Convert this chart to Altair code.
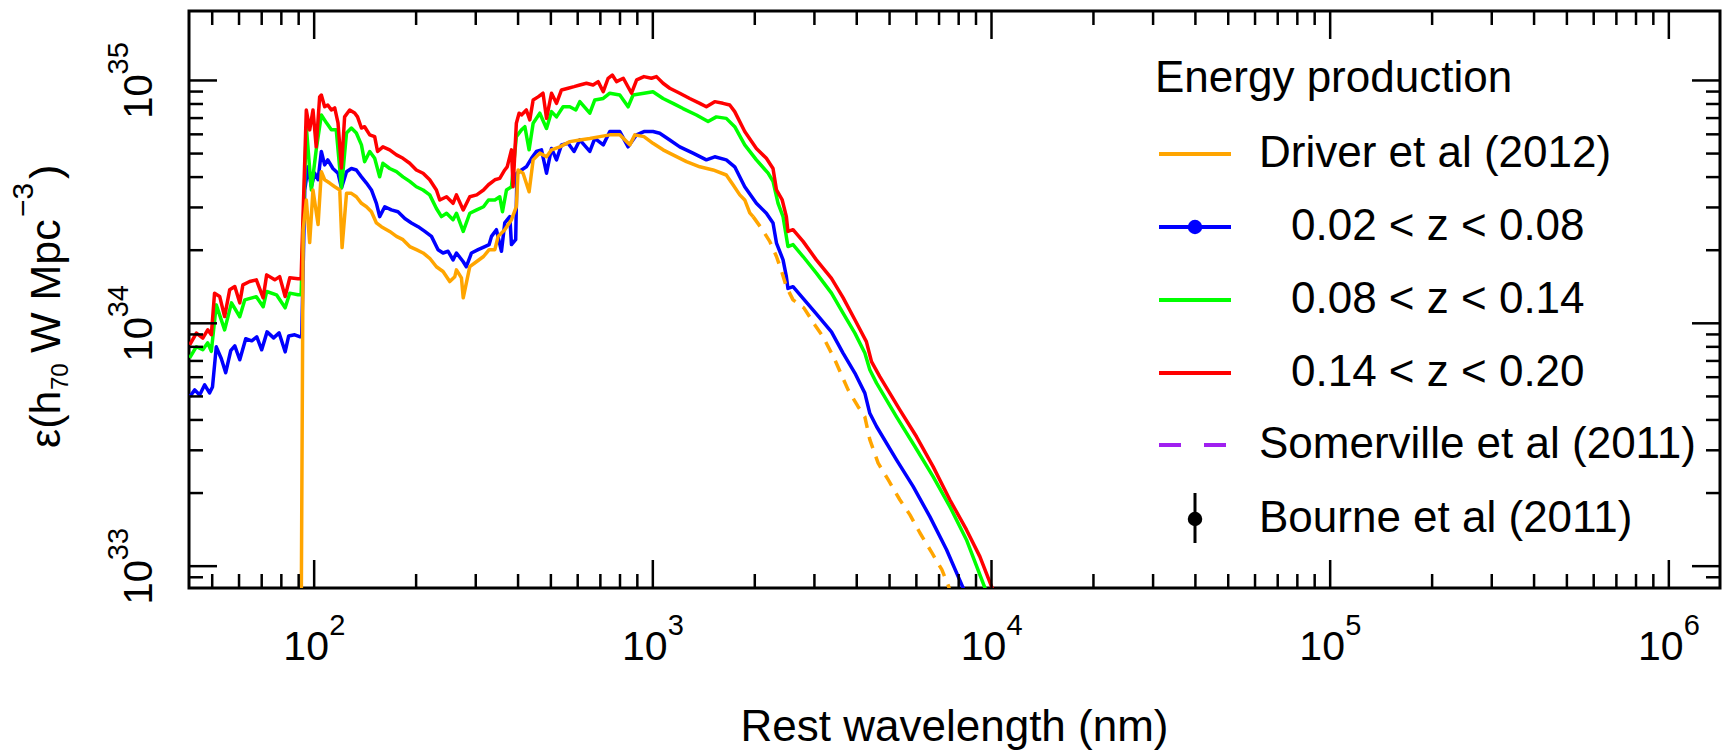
import altair as alt
import pandas as pd

# ---------------- data (wavelength in nm, energy production in units of 1e34 h70 W Mpc^-3) ----------------
red = [(42.9, 0.815), (44.9, 0.911), (46.9, 0.869), (48.5, 0.940), (49.7, 0.897), (50.8, 1.331), (52.6, 1.29),
       (54.4, 1.066), (56.3, 1.374), (58.3, 1.418), (60.3, 1.214), (61.6, 1.44), (64.5, 1.486), (67.5, 1.51),
       (70.7, 1.274), (72.4, 1.583), (76.5, 1.51), (79.1, 1.557), (82.1, 1.289), (84.7, 1.539), (89.6, 1.525),
       (91.5, 1.525), (94.8, 7.56), (97.0, 6.26), (99.2, 7.56), (101.4, 5.33), (103.8, 8.56), (105.0, 8.71),
       (107.4, 7.79), (109.7, 7.92), (112.4, 7.56), (115.0, 7.71), (117.6, 6.69), (120.4, 4.36), (123.0, 7.08),
       (127.3, 7.56), (131.7, 7.35), (134.3, 7.08), (137.9, 6.37), (140.9, 6.45), (145.9, 5.97), (150.9, 5.87),
       (153.9, 5.10), (159.6, 5.33), (167.1, 5.18), (175.0, 4.94), (182.9, 4.78), (191.5, 4.56), (200.3, 4.28),
       (209.7, 4.15), (219.4, 3.90), (229.6, 3.54), (234.9, 3.22), (246.0, 3.32), (257.1, 3.12), (263.1, 3.38),
       (275.5, 2.93), (288.1, 3.32), (302.0, 3.38), (316.3, 3.54), (327.1, 3.72), (341.6, 3.90), (353.2, 3.95),
       (365.4, 4.28), (371.5, 4.41), (382.5, 5.18), (386.7, 3.65), (395.4, 6.67), (402.8, 7.33), (409.4, 7.21),
       (423.2, 7.56), (433.2, 6.88), (443.2, 8.31), (458.4, 8.56), (474.0, 8.86), (485.4, 6.98), (502.2, 8.86),
       (519.4, 8.05), (537.4, 9.14), (562.2, 9.29), (585.4, 9.43), (608.6, 9.58), (636.8, 9.74), (666.1, 9.58),
       (689.5, 9.89), (713.9, 8.99), (737.9, 10.21), (759.1, 10.53), (781.3, 9.89), (818.2, 10.21), (865.2, 8.86),
       (895.9, 10.05), (941.4, 10.37), (990.5, 10.21), (1025, 10.37), (1072, 9.74), (1122, 9.29), (1201, 8.86),
       (1285, 8.43), (1376, 8.05), (1439, 7.79), (1523, 8.18), (1611, 8.05), (1687, 7.92), (1745, 7.44),
       (1868, 6.16), (2022, 5.25), (2164, 4.78), (2264, 4.34), (2318, 3.54), (2410, 3.22), (2479, 2.75),
       (2506, 2.39), (2594, 2.43), (2777, 2.175), (3040, 1.825), (3369, 1.53), (3645, 1.275), (3950, 1.034),
       (4271, 0.841), (4423, 0.695), (4680, 0.603), (5362, 0.440), (6008, 0.341), (6724, 0.257), (7534, 0.1877),
       (8433, 0.1413), (9240, 0.1095), (10230, 0.0761)]

green = [(42.9, 0.721), (44.9, 0.801), (46.9, 0.778), (48.5, 0.831), (49.7, 0.766), (51.4, 1.191), (54.4, 0.940),
         (57.0, 1.214), (60.3, 1.064), (62.4, 1.249), (67.5, 1.287), (70.7, 1.170), (72.4, 1.352), (77.4, 1.31),
         (82.1, 1.158), (84.7, 1.331), (89.6, 1.31), (91.5, 1.31), (94.8, 6.45), (98.1, 3.54), (101.4, 5.18),
         (105.0, 7.21), (108.7, 6.69), (112.4, 6.26), (116.2, 6.26), (120.4, 3.61), (124.6, 6.08), (128.8, 6.37),
         (133.2, 6.08), (137.9, 5.43), (140.9, 4.63), (145.9, 5.10), (150.9, 4.78), (156.1, 4.01), (159.6, 4.56),
         (167.1, 4.34), (175.0, 4.21), (182.9, 4.01), (191.5, 3.84), (200.3, 3.65), (209.7, 3.54), (219.4, 3.38),
         (229.6, 2.97), (237.6, 2.75), (246.0, 2.84), (257.1, 2.67), (263.1, 2.84), (275.5, 2.39), (288.1, 2.84),
         (302.0, 2.93), (316.3, 3.02), (327.1, 3.22), (341.6, 3.22), (353.2, 3.32), (359.8, 2.88), (369.7, 3.54),
         (382.5, 3.65), (395.4, 5.87), (409.4, 6.26), (419.0, 6.45), (431.2, 5.18), (443.2, 6.67), (463.7, 7.33),
         (485.4, 6.34), (502.2, 7.44), (519.4, 7.08), (543.2, 7.79), (568.6, 7.79), (592.4, 7.56), (608.6, 8.18),
         (651.5, 7.33), (674.1, 8.31), (713.9, 8.43), (746.4, 8.86), (798.9, 8.71), (845.3, 7.79), (874.5, 8.71),
         (941.4, 8.86), (1001, 8.99), (1072, 8.43), (1147, 8.05), (1228, 7.66), (1345, 7.21), (1456, 6.77),
         (1540, 7.08), (1648, 6.98), (1745, 6.45), (1868, 5.43), (2022, 4.71), (2190, 4.15), (2264, 3.84),
         (2343, 3.12), (2424, 2.75), (2506, 2.07), (2594, 2.11), (2777, 1.884), (3040, 1.609), (3369, 1.331),
         (3645, 1.101), (3950, 0.911), (4227, 0.754), (4372, 0.644), (4577, 0.567), (5243, 0.412), (5940, 0.311),
         (6724, 0.2337), (7534, 0.1759), (8433, 0.1285), (9563, 0.0814), (9758, 0.0752)]

blue = [(42.9, 0.498), (44.4, 0.532), (45.9, 0.507), (47.5, 0.558), (49.1, 0.517), (50.1, 0.547), (51.4, 0.800),
        (53.2, 0.715), (54.8, 0.626), (56.7, 0.771), (58.3, 0.807), (60.3, 0.708), (62.8, 0.864), (65.4, 0.847),
        (67.7, 0.880), (70.0, 0.778), (72.6, 0.922), (75.9, 0.871), (78.8, 0.913), (82.1, 0.763), (84.1, 0.887),
        (87.6, 0.897), (90.6, 0.881), (91.9, 0.880), (93.8, 3.54), (95.9, 4.41), (98.1, 3.65), (100.4, 4.15),
        (102.7, 3.90), (105.0, 5.10), (107.4, 4.49), (109.7, 4.71), (113.6, 4.34), (117.6, 4.15), (120.4, 3.61),
        (124.6, 4.21), (128.8, 4.34), (133.2, 4.28), (137.9, 4.01), (142.7, 3.78), (147.6, 3.54), (152.7, 3.12),
        (156.1, 2.75), (161.6, 3.02), (169.0, 2.93), (176.8, 2.88), (185.2, 2.70), (193.7, 2.59), (202.7, 2.50),
        (212.2, 2.39), (222.0, 2.28), (232.2, 2.01), (240.2, 1.948), (248.6, 1.98), (257.1, 1.825), (263.1, 1.948),
        (275.2, 1.797), (281.4, 1.71), (291.4, 1.948), (304.9, 2.01), (319.2, 2.07), (328.6, 2.11), (333.9, 2.28),
        (345.2, 2.43), (357.3, 1.98), (365.4, 2.59), (378.1, 2.75), (382.5, 2.11), (393.6, 2.21), (397.0, 4.15),
        (409.4, 4.28), (423.2, 4.41), (438.2, 4.78), (453.0, 5.10), (469.1, 5.18), (485.4, 4.15), (502.2, 5.25),
        (519.4, 4.71), (537.4, 5.43), (562.2, 5.51), (585.4, 5.10), (608.6, 5.69), (651.5, 5.10), (674.1, 5.77),
        (713.9, 5.43), (746.4, 6.16), (798.9, 6.16), (845.3, 5.33), (895.2, 5.97), (941.4, 6.16), (1001, 6.16),
        (1048, 6.06), (1122, 5.69), (1201, 5.33), (1314, 5.02), (1439, 4.71), (1523, 4.85), (1648, 4.71),
        (1745, 4.41), (1868, 3.65), (2022, 3.12), (2164, 2.84), (2264, 2.59), (2318, 2.14), (2424, 1.825),
        (2479, 1.556), (2506, 1.392), (2594, 1.415), (2777, 1.267), (3040, 1.094), (3369, 0.922), (3645, 0.754),
        (3950, 0.624), (4227, 0.516), (4372, 0.426), (4577, 0.376), (5243, 0.274), (5868, 0.213), (6576, 0.160),
        (7368, 0.1169), (8245, 0.0814), (8396, 0.0756)]

driver = [(91.5, 0.05), (92.8, 2.43), (94.8, 3.22), (97.0, 2.15), (99.2, 3.54), (102.7, 2.55), (105.0, 4.21),
          (107.4, 3.90), (111.1, 3.78), (115.0, 3.65), (119.0, 3.54), (120.9, 2.05), (124.6, 3.43), (128.8, 3.43),
          (133.2, 3.32), (137.9, 3.12), (142.7, 3.02), (147.6, 2.88), (152.7, 2.59), (157.9, 2.50), (167.1, 2.39),
          (175.0, 2.28), (182.9, 2.21), (191.5, 2.07), (200.3, 2.01), (209.7, 1.948), (219.4, 1.853), (229.6, 1.71),
          (240.2, 1.634), (251.4, 1.486), (260.2, 1.556), (263.1, 1.66), (272.2, 1.539), (275.5, 1.274),
          (288.1, 1.71), (302.0, 1.797), (316.3, 1.884), (328.6, 2.01), (341.6, 2.01), (349.3, 2.28), (365.4, 2.43),
          (382.5, 2.67), (395.4, 3.02), (400.1, 4.28), (413.8, 4.15), (431.2, 3.48), (443.2, 4.71), (463.7, 5.02),
          (485.4, 4.85), (502.2, 5.18), (531.2, 5.33), (568.6, 5.60), (608.6, 5.69), (651.5, 5.77), (697.3, 5.87),
          (746.4, 5.97), (798.9, 5.97), (855.2, 5.43), (884.8, 5.97), (941.4, 5.87), (1001, 5.51), (1072, 5.18),
          (1147, 4.94), (1257, 4.63), (1376, 4.41), (1506, 4.28), (1648, 4.08), (1725, 3.72), (1806, 3.38),
          (1868, 3.22), (1933, 2.85), (1977, 2.75)]

driver_ext = [(1977, 2.75), (2093, 2.46), (2214, 2.175), (2318, 1.884), (2410, 1.609), (2479, 1.415), (2594, 1.249),
              (2792, 1.158), (3009, 0.985), (3181, 0.881), (3447, 0.708), (3773, 0.532), (4038, 0.4535),
              (4227, 0.412), (4372, 0.332), (4627, 0.2655), (4953, 0.227), (5362, 0.1877), (5739, 0.163),
              (6143, 0.1373), (6666, 0.1136), (7135, 0.0967), (7472, 0.0825), (7600, 0.0765)]

# axis ticks and labels
x_major = [1e2, 1e3, 1e4, 1e5, 1e6]
x_label_exp = ["2", "3", "4", "5", "6"]
y_major = [0.1, 1, 10]
y_label_exp = ["33", "34", "35"]
x_minor = [m * 10 ** k for k in range(1, 6) for m in range(2, 10) if 42.7 < m * 10 ** k < 1.416e6]
y_minor = [0.09] + [m * 0.1 for m in range(2, 10)] + [float(m) for m in range(2, 10)]

x_title = "Rest wavelength (nm)"
# y title: ε(h_70 W Mpc^-3) written as pieces (text, font size, start offset along the axis, baseline shift)
y_title_parts = [("ε(h", 43, 437, 0), ("70", 24, 379, 8), ("W Mpc", 43, 342, 0), ("−3", 30, 206, -27),
                 (")", 43, 168, 0)]
legend_title = "Energy production"
legend_labels = ["Driver et al (2012)", "0.02 < z < 0.08", "0.08 < z < 0.14", "0.14 < z < 0.20",
                 "Somerville et al (2011)", "Bourne et al (2011)"]

# ---------------- layout ----------------
W, H = 1531, 577
FONT = "Liberation Sans"
LW = 3.5
xscale = alt.Scale(type="log", domain=[42.7, 1.416e6], nice=False)
yscale = alt.Scale(type="log", domain=[0.0813, 19.32], nice=False)


def spectrum(points, color, dash=None):
    df = pd.DataFrame(points, columns=["lam", "eps"])
    df["i"] = range(len(df))
    kw = dict(color=color, strokeWidth=LW, clip=True, strokeJoin="round")
    if dash:
        kw["strokeDash"] = dash
    return alt.Chart(df).mark_line(**kw).encode(
        x=alt.X("lam:Q", scale=xscale, axis=None),
        y=alt.Y("eps:Q", scale=yscale, axis=None),
        order="i:Q",
    )


layers = [
    spectrum(blue, "#0000FF"),
    spectrum(green, "#00FF00"),
    spectrum(red, "#FF0000"),
    spectrum(driver, "#FFA500"),
    spectrum(driver_ext, "#FFA500", dash=[12, 9]),
]

# inward ticks on all four sides
for vals, ln in ((x_major, 28), (x_minor, 14)):
    d = pd.DataFrame({"v": vals})
    xe = alt.X("v:Q", scale=xscale, axis=None)
    layers.append(alt.Chart(d).mark_rule(color="black", strokeWidth=2.5).encode(
        x=xe, y=alt.value(H), y2=alt.value(H - ln)))
    layers.append(alt.Chart(d).mark_rule(color="black", strokeWidth=2.5).encode(
        x=xe, y=alt.value(0), y2=alt.value(ln)))
for vals, ln in ((y_major, 28), (y_minor, 14)):
    d = pd.DataFrame({"v": vals})
    ye = alt.Y("v:Q", scale=yscale, axis=None)
    layers.append(alt.Chart(d).mark_rule(color="black", strokeWidth=2.5).encode(
        y=ye, x=alt.value(0), x2=alt.value(ln)))
    layers.append(alt.Chart(d).mark_rule(color="black", strokeWidth=2.5).encode(
        y=ye, x=alt.value(W), x2=alt.value(W - ln)))

# tick labels: 10 with superscript exponent
xl = pd.DataFrame({"v": x_major, "base": ["10"] * len(x_major), "exp": x_label_exp})
layers.append(alt.Chart(xl).mark_text(font=FONT, fontSize=41, align="center", baseline="alphabetic",
                                      dx=-8, color="black").encode(
    x=alt.X("v:Q", scale=xscale, axis=None), y=alt.value(H + 72), text="base:N"))
layers.append(alt.Chart(xl).mark_text(font=FONT, fontSize=29, align="left", baseline="alphabetic",
                                      dx=15, color="black").encode(
    x=alt.X("v:Q", scale=xscale, axis=None), y=alt.value(H + 47), text="exp:N"))
yl = pd.DataFrame({"v": y_major, "base": ["10"] * len(y_major), "exp": y_label_exp})
layers.append(alt.Chart(yl).mark_text(font=FONT, fontSize=40, angle=270, align="center", baseline="alphabetic",
                                      dx=-16, color="black").encode(
    y=alt.Y("v:Q", scale=yscale, axis=None), x=alt.value(-37), text="base:N"))
layers.append(alt.Chart(yl).mark_text(font=FONT, fontSize=29, angle=270, align="left", baseline="alphabetic",
                                      dx=6, dy=-24, color="black").encode(
    y=alt.Y("v:Q", scale=yscale, axis=None), x=alt.value(-37), text="exp:N"))

one = pd.DataFrame({"k": [0]})

# axis titles
layers.append(alt.Chart(one).mark_text(text=x_title, font=FONT, fontSize=44, align="center",
                                       baseline="alphabetic", color="black").encode(
    x=alt.value(W / 2), y=alt.value(H + 153)))
for s, size, ypos, shift in y_title_parts:
    layers.append(alt.Chart(one).mark_text(text=s, font=FONT, fontSize=size, angle=270, align="left",
                                           baseline="alphabetic", color="black").encode(
        x=alt.value(-129 + shift), y=alt.value(ypos)))


# ---------------- legend (drawn inside the plot) ----------------
def lg_rule(x1, x2, y1, y2, color, width=4, dash=None):
    kw = dict(color=color, strokeWidth=width)
    if dash:
        kw["strokeDash"] = dash
    return alt.Chart(one).mark_rule(**kw).encode(
        x=alt.value(x1), x2=alt.value(x2), y=alt.value(y1), y2=alt.value(y2))


def lg_text(x, y, s, size=44):
    return alt.Chart(one).mark_text(text=s, font=FONT, fontSize=size, align="left",
                                    baseline="alphabetic", color="black").encode(
        x=alt.value(x), y=alt.value(y))


def lg_dot(x, y, color):
    return alt.Chart(one).mark_point(filled=True, shape="circle", size=210, color=color, opacity=1).encode(
        x=alt.value(x), y=alt.value(y))


rows = [143, 216, 289, 362, 434, 508]
LX1, LX2, LMID = 970, 1042, 1006
layers.append(lg_text(966, 81, legend_title))
layers.append(lg_rule(LX1, LX2, rows[0], rows[0], "#FFA500"))
layers.append(lg_rule(LX1, LX2, rows[1], rows[1], "#0000FF"))
layers.append(lg_dot(LMID, rows[1], "#0000FF"))
layers.append(lg_rule(LX1, LX2, rows[2], rows[2], "#00FF00"))
layers.append(lg_rule(LX1, LX2, rows[3], rows[3], "#FF0000"))
layers.append(lg_rule(LX1, 1037, rows[4], rows[4], "#A020F0", dash=[22, 23]))
layers.append(lg_rule(LMID, LMID, rows[5] - 26, rows[5] + 24, "black", width=3))
layers.append(lg_dot(LMID, rows[5], "black"))
for i, s in enumerate(legend_labels):
    x = 1102 if 1 <= i <= 3 else 1070
    layers.append(lg_text(x, rows[i] + 13, s))

chart = alt.layer(*layers).properties(
    width=W, height=H,
    autosize=alt.AutoSizeParams(type="none"),
    padding={"left": 189, "top": 11, "right": 2, "bottom": 162},
    background="white",
).configure_view(stroke="black", strokeWidth=3)

chart.save("out.html", embed_options={"renderer": "svg", "actions": False})
